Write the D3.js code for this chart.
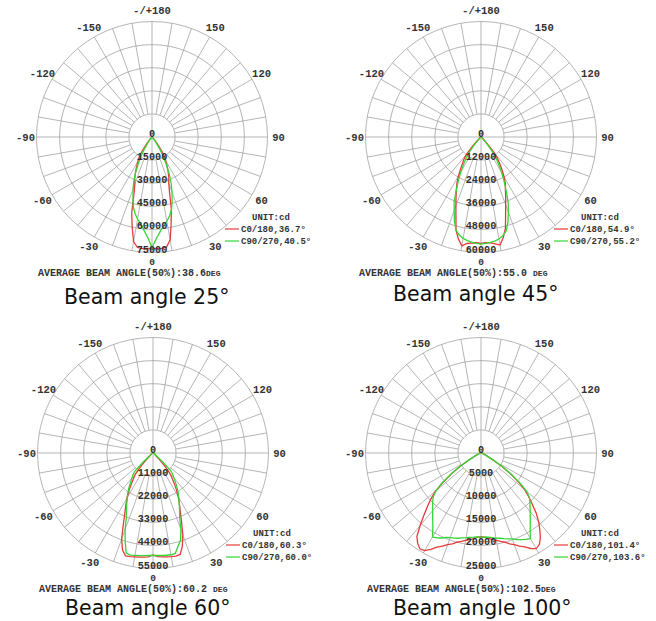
<!DOCTYPE html>
<html>
<head>
<meta charset="utf-8">
<script src="https://cdn.jsdelivr.net/npm/d3@7"></script>
<style>
body { margin:0; background:#fff; }
svg text { font-family: "Liberation Mono", "DejaVu Sans Mono", monospace; }
</style>
</head>
<body>
<script>
//gamma angles for one half of a plane, 0 = straight down
var gammaHalf = [0,2.5,5,7.5,10,12.5,15,17.5,20,22.5,25,27.5,30,32.5,35,37.5,40,42.5,45,47.5,50,52.5,55,57.5,60,65,70,80,90];

//intensity (cd), "neg" = left half (C180 / C270), "pos" = right half (C0 / C90)
var b25_c0_neg  = [72400,72500,72700,72400,69000,59500,50900,39100,32600,29300,25400,21500,18300,15700,11100,5900,2600,1600,1000,800,650,600,500,450,400,330,260,200,130];
var b25_c0_pos  = [72400,72500,72600,72200,67800,57500,48500,38000,31800,28500,24800,21000,17800,15200,10500,5500,2500,1500,1000,800,650,600,500,450,400,330,260,200,130];
var b25_c90_neg = [71700,65200,60700,56700,54100,50900,47000,41100,35900,30700,24800,18900,13700,9100,5200,3300,2000,1300,1000,800,650,600,500,450,400,330,260,200,130];
var b25_c90_pos = [71700,66000,61500,58000,55500,52500,48800,43500,38000,32500,26500,20000,14500,9500,5500,3400,2000,1300,1000,800,650,600,500,450,400,330,260,200,130];

var b45_c0_neg  = [55300,55000,55300,55800,57400,54300,50100,43300,38100,33900,30300,27100,23500,19800,16700,14600,11500,6300,2600,1600,1000,830,680,570,520,420,310,210,160];
var b45_c0_pos  = [55300,55000,55200,56000,57000,53500,49000,42500,37500,33500,30000,27500,24000,20500,17000,14000,10500,5500,2400,1500,1000,830,680,570,520,420,310,210,160];
var b45_c90_neg = [55600,55300,54800,54300,53500,52200,50100,45900,40700,36500,30300,25500,20900,17200,13600,9900,6300,3100,1600,1000,780,650,550,480,420,350,280,200,150];
var b45_c90_pos = [55600,55300,54900,54500,53800,52500,50500,46500,41500,37000,31000,26000,21500,17500,14000,10200,6500,3200,1600,1000,780,650,550,480,420,350,280,200,150];

var b60_c0_neg  = [48500,49500,49800,50000,50200,50500,50700,48300,43600,37000,31800,28000,24600,21300,18000,15200,12800,8500,3800,1900,1400,1200,950,800,710,570,470,330,240];
var b60_c0_pos  = [48500,49400,49700,49900,50100,50300,50000,46500,41500,35500,30800,27200,24000,20800,17500,14800,12000,7500,3500,1900,1400,1200,950,800,710,570,470,330,240];
var b60_c90_neg = [48800,48800,49100,49300,49500,49800,49300,44100,38900,33200,29900,27000,24600,22300,19900,17500,15600,14200,12300,6200,2400,1400,1100,950,800,620,470,330,240];
var b60_c90_pos = [48800,48800,49000,49100,49200,49000,46000,43600,38900,33200,29900,27000,24600,22300,19900,17500,15600,14000,12000,6000,2400,1400,1100,950,800,620,470,330,240];

var b100_c0_neg  = [18100,18300,18600,18900,19200,19600,20000,20600,21100,21800,22500,23500,24400,24600,23900,22800,20500,18300,16400,14700,12900,10300,7500,5400,3000,1100,540,220,110];
var b100_c0_pos  = [18100,18300,18500,18900,19200,19600,20000,20600,21100,21800,22400,23300,23900,23500,22400,20900,19400,17700,15700,14000,12300,10100,7500,5400,3000,1100,540,220,110];
var b100_c90_neg = [18200,18200,18300,18400,18600,18800,19100,19300,19500,19800,20300,20700,21000,19400,18200,17200,16300,15500,14800,14000,12700,10600,8000,5600,3200,1100,540,220,110];
var b100_c90_pos = [18200,18200,18300,18500,18700,18900,19200,19500,19800,20300,20700,21100,21400,19800,18600,17500,16600,15700,15000,14200,12900,10600,8000,5600,3200,1100,540,220,110];

//chart texts and scales
var captions = ["Beam angle 25\u00b0","Beam angle 45\u00b0","Beam angle 60\u00b0","Beam angle 100\u00b0"];
var scaleMax = [75000,60000,55000,25000];
var ringStep = [15000,12000,11000,5000];
var c0Labels = ["C0/180,36.7\u00b0","C0/180,54.9\u00b0","C0/180,60.3\u00b0","C0/180,101.4\u00b0"];
var c90Labels = ["C90/270,40.5\u00b0","C90/270,55.2\u00b0","C90/270,60.0\u00b0","C90/270,103.6\u00b0"];
var avgAngles = ["38.6","55.0 ","60.2 ","102.5"];
var angleTicks = [0,30,60,90,120,150,180,-150,-120,-90,-60,-30];

var series = [
	[b25_c0_neg,b25_c0_pos,b25_c90_neg,b25_c90_pos],
	[b45_c0_neg,b45_c0_pos,b45_c90_neg,b45_c90_pos],
	[b60_c0_neg,b60_c0_pos,b60_c90_neg,b60_c90_pos],
	[b100_c0_neg,b100_c0_pos,b100_c90_neg,b100_c90_pos]
];

//layout
var centers = [[152,137],[481,137],[153,453],[481,453]],
	avgX = [-114,-122,-114,-114],
	capY = [167,164,162,162],
	R = 115.5,
	red = "#e43b3b",
	green = "#35d535",
	gridColor = "#a2a2a2";

var svg = d3.select("body").append("svg")
	.attr("width",656)
	.attr("height",621);

//joins the two halves of a plane into one curve from -90 to 90
var build_curve = function(neg, pos){
	var pts = [];
	for (var j = gammaHalf.length-1; j > 0; j--) pts.push({g:-gammaHalf[j], v:neg[j]});
	for (var j = 0; j < gammaHalf.length; j++) pts.push({g:gammaHalf[j], v:pos[j]});
	return pts;
};

var draw_chart = function(i){
	var cx = centers[i][0], cy = centers[i][1];
	var g = svg.append("g").attr("transform","translate(" + cx + "," + cy + ")");

	var r = d3.scaleLinear().domain([0,scaleMax[i]]).range([0,R]);
	var rad = function(a){ return a*Math.PI/180; };

	//rings
	g.selectAll(".ring").data(d3.range(1,6).map(function(k){ return k*ringStep[i]; }))
		.enter().append("circle")
		.attr("class","ring")
		.attr("r",function(d){ return r(d); })
		.attr("fill","none")
		.attr("stroke",gridColor)
		.attr("stroke-width",0.8);

	//spokes every 10 deg, the main axes go through the middle
	g.selectAll(".spoke").data(d3.range(0,360,10))
		.enter().append("line")
		.attr("class","spoke")
		.attr("x1",function(d){ return (d%90==0 ? 0 : r(ringStep[i]))*Math.sin(rad(d)); })
		.attr("y1",function(d){ return (d%90==0 ? 0 : r(ringStep[i]))*Math.cos(rad(d)); })
		.attr("x2",function(d){ return R*Math.sin(rad(d)); })
		.attr("y2",function(d){ return R*Math.cos(rad(d)); })
		.attr("stroke",gridColor)
		.attr("stroke-width",0.8);

	//intensity curves
	var line = d3.lineRadial()
		.angle(function(d){ return Math.PI - rad(d.g); })
		.radius(function(d){ return r(d.v); });

	var s = series[i];
	g.append("path")
		.attr("d",line(build_curve(s[0],s[1])))
		.attr("fill","none")
		.attr("stroke",red)
		.attr("stroke-width",1.3);
	g.append("path")
		.attr("d",line(build_curve(s[2],s[3])))
		.attr("fill","none")
		.attr("stroke",green)
		.attr("stroke-width",1.3);

	//angle labels (the bottom 0 sits a bit smaller between the rings and the average line)
	g.selectAll(".alabel").data(angleTicks)
		.enter().append("text")
		.attr("class","alabel")
		.attr("x",function(d){ return (R+11)*Math.sin(rad(d)); })
		.attr("y",function(d){ return d==0 ? R+12 : (R+11)*Math.cos(rad(d)) + 3.5; })
		.attr("text-anchor","middle")
		.style("font-size",function(d){ return d==0 ? "9.5px" : "10.5px"; })
		.style("font-weight","bold")
		.style("fill","#333")
		.text(function(d){ return d==180 ? "-/+180" : d; });

	//intensity labels down the 0 axis
	g.selectAll(".vlabel").data(d3.range(0,6).map(function(k){ return k*ringStep[i]; }))
		.enter().append("text")
		.attr("class","vlabel")
		.attr("x",0)
		.attr("y",function(d){ return r(d); })
		.attr("text-anchor","middle")
		.style("font-size","10.2px")
		.style("font-weight","bold")
		.style("fill","#2e2e2e")
		.text(function(d){ return d; });

	//legend
	g.append("text")
		.attr("x",100).attr("y",83)
		.style("font-size","9px").style("font-weight","bold").style("fill","#333")
		.text("UNIT:cd");
	[[c0Labels[i],red,95],[c90Labels[i],green,107]].forEach(function(l){
		g.append("line")
			.attr("x1",73).attr("x2",87)
			.attr("y1",l[2]-3).attr("y2",l[2]-3)
			.attr("stroke",l[1]).attr("stroke-width",1.2);
		g.append("text")
			.attr("x",89).attr("y",l[2])
			.style("font-size","9px").style("font-weight","bold").style("fill","#333")
			.text(l[0]);
	});

	//average beam angle line
	var avg = g.append("text")
		.attr("x",avgX[i]).attr("y",138.5)
		.style("font-size","10px").style("font-weight","bold").style("fill","#333");
	avg.append("tspan").text("AVERAGE BEAM ANGLE(50%):" + avgAngles[i]);
	avg.append("tspan").style("font-size","8px").text("DEG");

	//caption
	g.append("text")
		.attr("x",-88).attr("y",capY[i])
		.style("font-family","'DejaVu Sans', sans-serif")
		.style("font-size","20.5px")
		.style("fill","#111")
		.text(captions[i]);
};

for (var i = 0; i < 4; i++){
	draw_chart(i);
}
</script>
</body>
</html>
